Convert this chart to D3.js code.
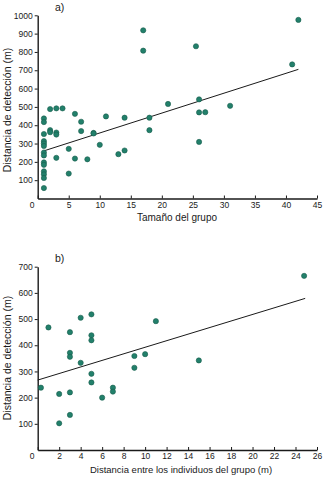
<!DOCTYPE html>
<html>
<head>
<meta charset="utf-8">
<script src="https://cdn.jsdelivr.net/npm/d3@7"></script>
<style>
  body { margin: 0; background: #fff; }
  svg { display: block; font-family: "Liberation Sans", Arial, sans-serif; }
</style>
</head>
<body>
<div id="chart"></div>
<script>
// Panel a: group size vs detection distance
const groupSize = [1, 1, 1, 1, 1, 1, 1, 1, 1, 1, 1, 1, 1, 1,
  2, 2, 2, 3, 3, 3, 3, 4, 5, 5, 6, 6, 7, 7, 8, 9, 9, 10, 11, 13, 14, 14,
  17, 17, 18, 18, 21, 25.5, 26, 26, 26, 27, 31, 41, 42];
const distA = [437, 417, 352, 313, 300, 287, 251, 235, 197, 184, 148, 132, 112, 57,
  488, 373, 362, 492, 360, 349, 222, 492, 271, 136, 462, 218, 419, 368, 214, 358, 355, 293, 448, 242, 441, 262,
  918, 807, 441, 373, 516, 831, 541, 470, 309, 471, 506, 732, 975];
const trendA = [[1, 260], [42, 705]];
const ticksAx = [0, 5, 10, 15, 20, 25, 30, 35, 40, 45];
const ticksAy = [100, 200, 300, 400, 500, 600, 700, 800, 900, 1000];

// Panel b: distance between individuals vs detection distance
const spacing = [0.3, 1, 2, 2, 3, 3, 3, 3, 3, 4, 4, 5, 5, 5, 5, 5, 6, 7, 7, 9, 9, 10, 11, 15, 24.8];
const distB = [238, 468, 214, 102, 450, 371, 356, 220, 134, 505, 333, 518, 438, 419, 291, 258, 200, 238, 223, 359, 314, 366, 492, 342, 665];
const trendB = [[0, 267], [24.9, 579]];
const ticksBx = [0, 2, 4, 6, 8, 10, 12, 14, 16, 18, 20, 22, 24, 26];
const ticksBy = [100, 200, 300, 400, 500, 600, 700];

const W = 325, H = 477;
const svg = d3.select("#chart").append("svg").attr("width", W).attr("height", H);

const dotFill = "#22806b";
const dotStroke = "#175c4c";
const ink = "#1a1a1a";

function panel(opts) {
  const x = d3.scaleLinear().domain(opts.xDomain).range([37.7, 317]);
  const y = d3.scaleLinear().domain(opts.yDomain).range(opts.yRange);
  const g = svg.append("g");

  // x axis, ticks pointing inward
  const xAxis = g.append("g")
    .attr("transform", `translate(0,${opts.yRange[0]})`)
    .call(d3.axisBottom(x).tickValues(opts.xTicks).tickFormat(d3.format("d"))
      .tickSize(-3).tickPadding(3).tickSizeOuter(0));
  xAxis.select(".domain").attr("stroke", ink).attr("stroke-width", 1.4);
  xAxis.selectAll(".tick line").attr("stroke", ink);
  xAxis.selectAll(".tick text").attr("font-size", 8.5).attr("fill", ink)
    .attr("dx", d => d === 0 ? -6 : 0);

  // y axis
  const yAxis = g.append("g")
    .attr("transform", "translate(37.7,0)")
    .call(d3.axisLeft(y).tickValues(opts.yTicks).tickFormat(d3.format("d"))
      .tickSize(3).tickPadding(2).tickSizeOuter(0));
  yAxis.select(".domain").attr("stroke", ink).attr("stroke-width", 1.4);
  yAxis.selectAll(".tick line").attr("stroke", ink);
  yAxis.selectAll(".tick text").attr("font-size", 8.5).attr("fill", ink);

  // regression line
  g.append("path")
    .datum(opts.trend)
    .attr("d", d3.line().x(d => x(d[0])).y(d => y(d[1])))
    .attr("fill", "none").attr("stroke", ink).attr("stroke-width", 1);

  // points
  g.selectAll("circle")
    .data(opts.xs.map((v, i) => [v, opts.ys[i]]))
    .join("circle")
    .attr("cx", d => x(d[0])).attr("cy", d => y(d[1]))
    .attr("r", 2.6)
    .attr("fill", dotFill).attr("stroke", dotStroke).attr("stroke-width", 0.6);

  // panel letter
  g.append("text").attr("x", 55).attr("y", opts.letterY)
    .attr("font-size", 10.5).attr("fill", ink).text(opts.letter);

  // axis titles
  g.append("text")
    .attr("x", opts.xTitleX).attr("y", opts.xTitleY)
    .attr("text-anchor", "middle").attr("font-size", opts.xTitleSize).attr("fill", ink)
    .text(opts.xTitle);
  g.append("text")
    .attr("transform", `translate(11,${opts.yTitleC}) rotate(-90)`)
    .attr("text-anchor", "middle").attr("font-size", 10.5).attr("fill", ink)
    .text("Distancia de detección (m)");
}

panel({
  xDomain: [0, 45], yDomain: [0, 1000], yRange: [198.5, 15.3],
  xTicks: ticksAx, yTicks: ticksAy,
  xs: groupSize, ys: distA, trend: trendA,
  letter: "a)", letterY: 11,
  xTitle: "Tamaño del grupo", xTitleX: 177, xTitleY: 221, xTitleSize: 10,
  yTitleC: 110
});

panel({
  xDomain: [0, 26], yDomain: [0, 700], yRange: [450, 266.7],
  xTicks: ticksBx, yTicks: ticksBy,
  xs: spacing, ys: distB, trend: trendB,
  letter: "b)", letterY: 262,
  xTitle: "Distancia entre los individuos del grupo (m)", xTitleX: 181, xTitleY: 473, xTitleSize: 9.5,
  yTitleC: 358
});
</script>
</body>
</html>
